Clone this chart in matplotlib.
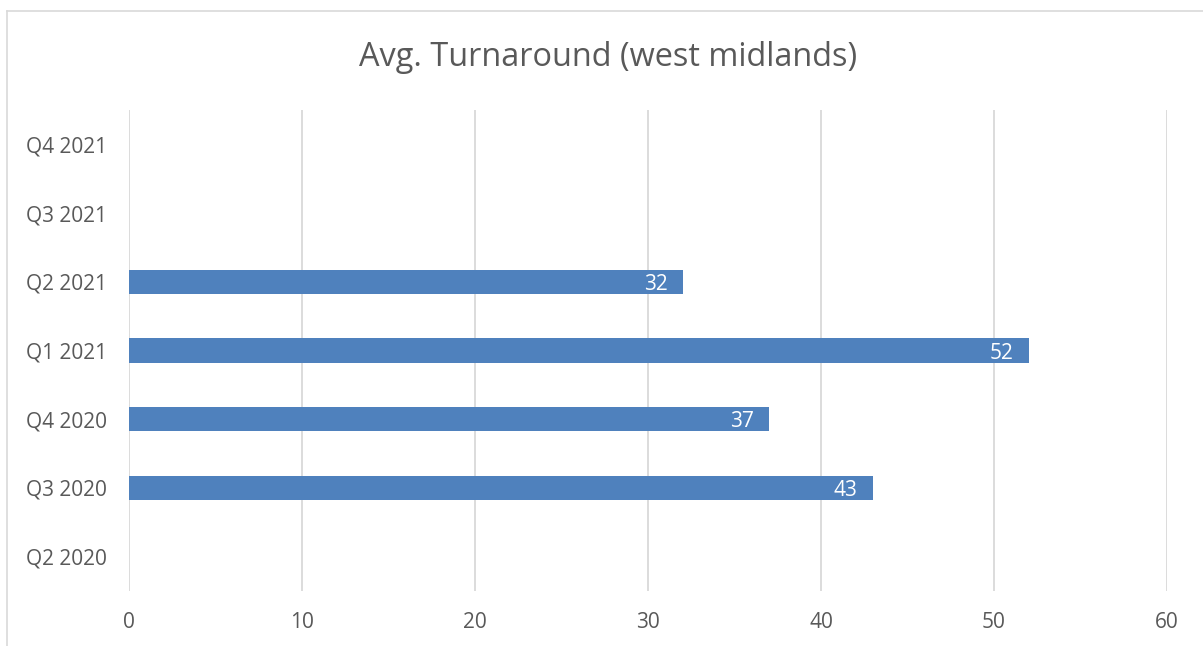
import matplotlib.pyplot as plt
from matplotlib.lines import Line2D
import numpy as np

quarters = ["Q2 2020", "Q3 2020", "Q4 2020", "Q1 2021", "Q2 2021", "Q3 2021", "Q4 2021"]
turnaround = [None, 43, 37, 52, 32, None, None]
x_ticks = [0, 10, 20, 30, 40, 50, 60]

bar_color = "#4F81BD"
text_color = "#595959"
grid_color = "#D9D9D9"

plt.rcParams['font.family'] = ['Open Sans', 'DejaVu Sans']

fig = plt.figure(figsize=(12.03, 6.46), dpi=100)
ax = fig.add_axes([129/1203, 1-591/646, (1167-129)/1203, (591-110)/646])

ypos = np.arange(len(quarters))
for y, v in zip(ypos, turnaround):
    if v is None:
        continue
    ax.barh(y, v, height=0.35, color=bar_color, zorder=3)
    ax.annotate(str(v), xy=(v, y), xytext=(-11, -2), textcoords="offset points",
                ha="right", va="center", color="white", fontsize=15, zorder=4)

ax.set_xlim(0, 60)
ax.set_ylim(-0.5, len(quarters) - 0.5)
ax.set_xticks(x_ticks)
ax.set_yticks(ypos)
ax.set_yticklabels(quarters)
ax.tick_params(axis="both", length=0, labelcolor=text_color, labelsize=15)
ax.tick_params(axis="y", pad=16)
ax.tick_params(axis="x", pad=15)
ax.xaxis.grid(True, color=grid_color, linewidth=1.3, zorder=0)
for s in ax.spines.values():
    s.set_visible(False)

fig.text(608/1203, 1-58/646, "Avg. Turnaround (west midlands)", ha="center", va="center",
         fontsize=23.4, color=text_color)

# chart border (partly cropped in the original)
fig.add_artist(Line2D([7/1203, 1], [1-11/646, 1-11/646], transform=fig.transFigure, color=grid_color, linewidth=1.2))
fig.add_artist(Line2D([7/1203, 7/1203], [0, 1-11/646], transform=fig.transFigure, color=grid_color, linewidth=1.2))

fig.savefig("out.png", dpi=100)
